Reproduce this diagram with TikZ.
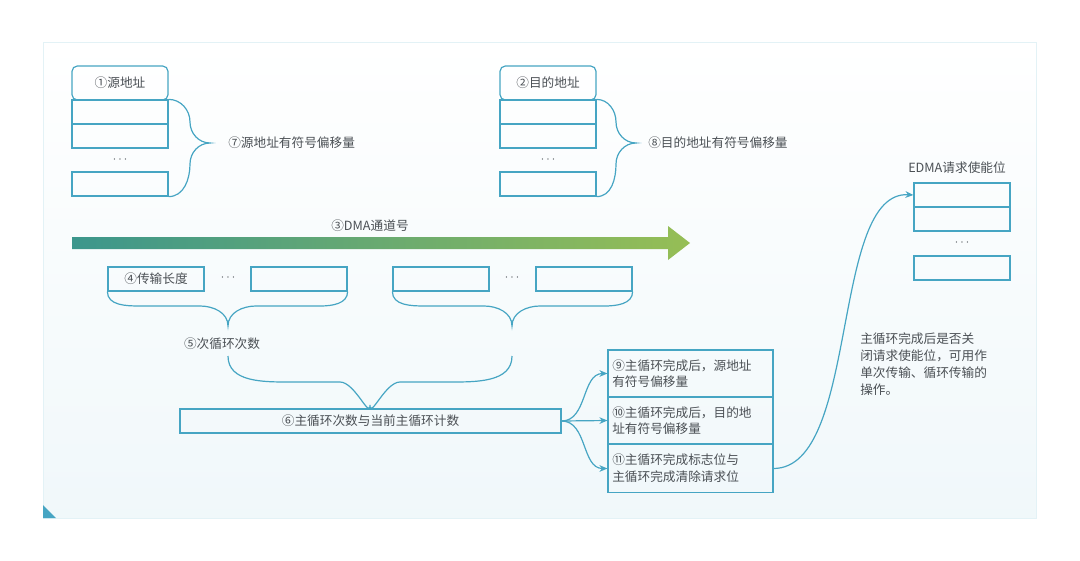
\documentclass[tikz,border=0pt]{standalone}
\usepackage{fontspec}
\setmainfont{Noto Sans CJK SC}
\usepackage{tikz}
\usetikzlibrary{arrows.meta}
\definecolor{edge}{RGB}{70,165,195}
\definecolor{ink}{RGB}{75,80,85}
\definecolor{teal}{RGB}{60,150,140}
\definecolor{leaf}{RGB}{150,190,85}
\tikzstyle{cell}=[draw=edge, line width=0.9pt, inner sep=0, minimum width=72pt, minimum height=18pt, font=\fontsize{9.5}{12.5}\selectfont, text=ink]
\tikzstyle{head}=[cell, rounded corners=4pt, minimum height=25.5pt]
\tikzstyle{lbl}=[inner sep=0, font=\fontsize{9.5}{12.5}\selectfont, text=ink]
\tikzstyle{brace}=[draw=edge, line width=0.9pt]
\tikzstyle{link}=[draw=edge, line width=0.9pt, -{Stealth[length=6pt,width=5pt]}]
\begin{document}
\begin{tikzpicture}[x=0.75pt, y=-0.75pt]
    \useasboundingbox (0,0) rectangle (1080,560);
    % panel
    \path[top color=white, bottom color=edge!8, draw=edge!15] (43,42) rectangle (1036,518);
    \fill[edge] (43,505) -- (56,518) -- (43,518) -- cycle;
    % source address
    \node[head] (S0) at (120,83) {①源地址};
    \node[cell] (S1) at (120,112) {};
    \node[cell] (S2) at (120,136) {};
    \node[lbl] (Sdots) at (120,160) {$\cdots$};
    \node[cell] (S3) at (120,184) {};
    \coordinate (Stip) at (210,143);
    \path[brace] (S1.north east) to[out=0,in=90] (190,122) to[out=-90,in=180] (Stip)
        to[out=180,in=90] (190,164) to[out=-90,in=0] (S3.south east);
    \node[lbl, anchor=west] (Soff) at (228,143) {⑦源地址有符号偏移量};
    % destination address
    \node[head] (D0) at (548,83) {②目的地址};
    \node[cell] (D1) at (548,112) {};
    \node[cell] (D2) at (548,136) {};
    \node[lbl] (Ddots) at (548,160) {$\cdots$};
    \node[cell] (D3) at (548,184) {};
    \coordinate (Dtip) at (636,143);
    \path[brace] (D1.north east) to[out=0,in=90] (616,122) to[out=-90,in=180] (Dtip)
        to[out=180,in=90] (616,164) to[out=-90,in=0] (D3.south east);
    \node[lbl, anchor=west] (Doff) at (648,143) {⑧目的地址有符号偏移量};
    % channel arrow
    \path[left color=teal, right color=leaf] (72,237) -- (668,237) -- (668,226) -- (690,243)
        -- (668,260) -- (668,249) -- (72,249) -- cycle;
    \node[lbl] (chan) at (370,226) {③DMA通道号};
    % transfer lengths
    \node[cell] (L1) at (156,279) {④传输长度};
    \node[lbl] (L1dots) at (228,278) {$\cdots$};
    \node[cell] (L2) at (299,279) {};
    \node[cell] (L3) at (441,279) {};
    \node[lbl] (L3dots) at (512,278) {$\cdots$};
    \node[cell] (L4) at (584,279) {};
    \coordinate (Ltip) at (228,326);
    \coordinate (Rtip) at (512,326);
    \path[brace] (L1.south west) to[out=-90,in=180] (140,306) -- (200,306) to[out=0,in=90] (Ltip)
        to[out=90,in=180] (256,306) -- (320,306) to[out=0,in=-90] (L2.south east);
    \path[brace] (L3.south west) to[out=-90,in=180] (425,306) -- (484,306) to[out=0,in=90] (Rtip)
        to[out=90,in=180] (540,306) -- (604,306) to[out=0,in=-90] (L4.south east);
    \node[lbl] (minor) at (222,344) {⑤次循环次数};
    % major loop
    \node[cell, minimum width=285.75pt] (M) at (370.5,421) {⑥主循环次数与当前主循环计数};
    \coordinate (Mtip) at (370,405);
    \path[brace] (228,356) to[out=-90,in=180] (290,382) -- (340,382) to[out=0,in=-90] (Mtip)
        to[out=-90,in=180] (400,382) -- (450,382) to[out=0,in=-90] (512,356);
    % completion box
    \node[cell, minimum width=123.75pt, minimum height=35.25pt] (C1) at (690.5,373.5) {};
    \node[cell, minimum width=123.75pt, minimum height=35.25pt] (C2) at (690.5,420.5) {};
    \node[cell, minimum width=123.75pt, minimum height=36pt] (C3) at (690.5,468.5) {};
    \node[lbl, anchor=west, align=left] (C1t) at (612,373.5) {⑨主循环完成后，源地址\\有符号偏移量};
    \node[lbl, anchor=west, align=left] (C2t) at (612,420.5) {⑩主循环完成后，目的地\\址有符号偏移量};
    \node[lbl, anchor=west, align=left] (C3t) at (612,468.5) {⑪主循环完成标志位与\\主循环完成清除请求位};
    \draw[link] (M.east) to[out=0,in=180] (C1.west);
    \draw[link] (M.east) -- (C2.west);
    \draw[link] (M.east) to[out=0,in=180] (C3.west);
    % request enable
    \node[lbl] (Etitle) at (957,168) {EDMA请求使能位};
    \node[cell] (E1) at (962,195) {};
    \node[cell] (E2) at (962,219) {};
    \node[lbl] (Edots) at (962,243) {$\cdots$};
    \node[cell] (E3) at (962,268) {};
    \draw[link] (C3.east) .. controls (860,468) and (830,190) .. (E1.west);
    \node[lbl, anchor=north west, align=left, font=\fontsize{9.5}{12.8}\selectfont] (note) at (860,332)
        {主循环完成后是否关\\闭请求使能位，可用作\\单次传输、循环传输的\\操作。};
\end{tikzpicture}
\end{document}
